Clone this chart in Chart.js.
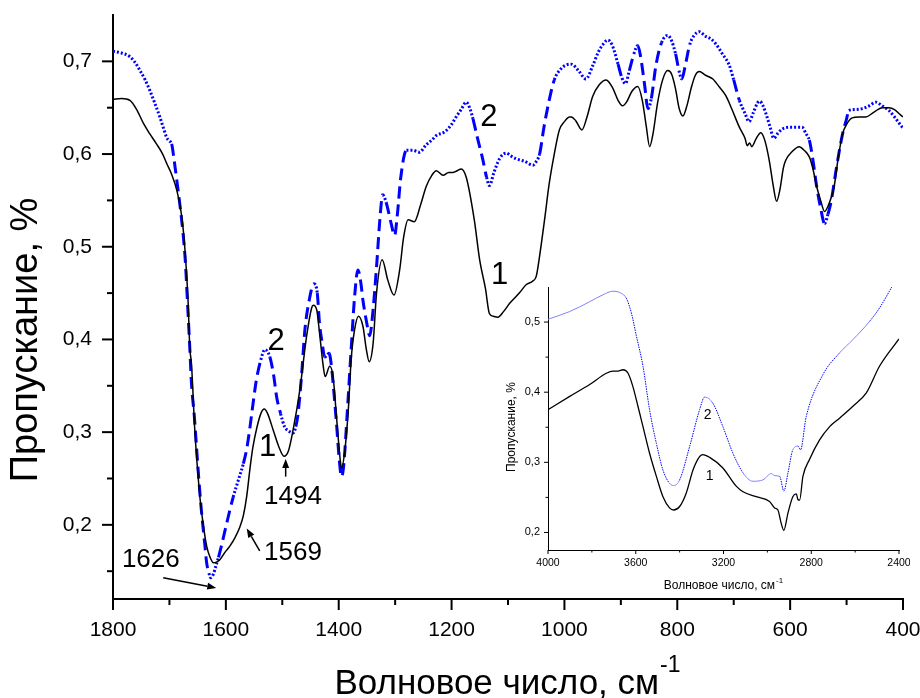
<!DOCTYPE html>
<html>
<head>
<meta charset="utf-8">
<script src="https://cdn.jsdelivr.net/npm/chart.js@4.4.1/dist/chart.umd.min.js"></script>
<style>
  html, body { margin: 0; padding: 0; background: #fff; }
  #wrap { position: relative; width: 920px; height: 698px; }
  #main { position: absolute; left: 0; top: 0; }
  #inset { position: absolute; left: 470px; top: 270px; }
</style>
</head>
<body>
<div id="wrap">
  <canvas id="main" width="920" height="698"></canvas>
  <canvas id="inset" width="440" height="330"></canvas>
</div>
<script>
// IR spectra, 1800-400 cm-1 (main) and 4000-2400 cm-1 (inset)
const FONT = "'Liberation Sans', Arial, Helvetica, sans-serif";

// curve 1, main range
const wave1 = [1800, 1785, 1770, 1758, 1746, 1735, 1723, 1712, 1705, 1696, 1687, 1678, 1672, 1667, 1664, 1661, 1655,
  1646, 1640, 1634, 1628, 1622, 1616, 1611, 1602, 1593, 1584, 1575, 1569, 1563, 1557, 1552, 1545, 1538, 1532, 1526,
  1516, 1506, 1497, 1489, 1481, 1469, 1457, 1448, 1445, 1439, 1434, 1428, 1424, 1416, 1410, 1404, 1398, 1395, 1389,
  1383, 1378, 1372, 1365, 1357, 1351, 1346, 1339, 1333, 1323, 1313, 1302, 1292, 1285, 1277, 1266, 1255, 1245, 1235,
  1227, 1215, 1205, 1198, 1190, 1183, 1174, 1160, 1150, 1140, 1133, 1126, 1118, 1108, 1097, 1080, 1068, 1056, 1050,
  1044, 1035, 1027, 1018, 1009, 1000, 991, 988, 980, 969, 960, 950, 938, 926, 915, 905, 897, 890, 880, 870, 862, 855,
  849, 843, 835, 826, 817, 810, 803, 797, 790, 783, 775, 768, 761, 750, 737, 725, 714, 703, 690, 680, 676, 672, 668,
  660, 652, 645, 637, 630, 624, 618, 612, 608, 596, 584, 575, 566, 560, 553, 546, 539, 532, 522, 515, 507, 500, 490,
  478, 466, 452, 437, 425, 415, 404, 400];
const trans1 = [0.659, 0.660, 0.658, 0.648, 0.633, 0.622, 0.611, 0.600, 0.590, 0.578, 0.561, 0.532, 0.493, 0.442, 0.392,
  0.374, 0.302, 0.230, 0.200, 0.177, 0.165, 0.159, 0.160, 0.162, 0.170, 0.177, 0.186, 0.198, 0.210, 0.231, 0.262,
  0.284, 0.305, 0.320, 0.325, 0.320, 0.302, 0.284, 0.274, 0.280, 0.302, 0.345, 0.403, 0.434, 0.437, 0.432, 0.407,
  0.374, 0.360, 0.371, 0.360, 0.317, 0.274, 0.261, 0.281, 0.324, 0.378, 0.410, 0.425, 0.414, 0.389, 0.376, 0.396,
  0.450, 0.486, 0.464, 0.448, 0.475, 0.510, 0.529, 0.527, 0.545, 0.565, 0.577, 0.582, 0.577, 0.580, 0.580, 0.582,
  0.584, 0.575, 0.530, 0.485, 0.455, 0.428, 0.425, 0.424, 0.430, 0.439, 0.450, 0.459, 0.463, 0.468, 0.490, 0.530,
  0.568, 0.600, 0.626, 0.635, 0.640, 0.640, 0.636, 0.626, 0.640, 0.662, 0.675, 0.680, 0.672, 0.658, 0.652, 0.656,
  0.668, 0.673, 0.658, 0.630, 0.608, 0.622, 0.655, 0.680, 0.690, 0.686, 0.670, 0.650, 0.641, 0.652, 0.672, 0.685,
  0.689, 0.685, 0.681, 0.672, 0.663, 0.648, 0.629, 0.617, 0.609, 0.612, 0.608, 0.617, 0.623, 0.615, 0.593, 0.566,
  0.549, 0.562, 0.585, 0.593, 0.603, 0.608, 0.604, 0.597, 0.585, 0.565, 0.550, 0.538, 0.545, 0.565, 0.595, 0.622,
  0.632, 0.639, 0.640, 0.640, 0.645, 0.650, 0.650, 0.648, 0.642, 0.640];

// curve 2, main range
const wave2 = [1800, 1785, 1770, 1760, 1752, 1743, 1735, 1726, 1717, 1710, 1705, 1700, 1696, 1692, 1687, 1681, 1676,
  1672, 1668, 1664, 1661, 1656, 1652, 1648, 1643, 1638, 1634, 1630, 1627, 1622, 1618, 1613, 1608, 1598, 1587, 1578,
  1569, 1563, 1558, 1552, 1546, 1538, 1531, 1522, 1515, 1510, 1503, 1496, 1488, 1481, 1476, 1472, 1466, 1460, 1453,
  1444, 1438, 1434, 1429, 1425, 1417, 1413, 1410, 1404, 1399, 1395, 1391, 1385, 1378, 1372, 1366, 1361, 1357, 1351,
  1345, 1341, 1333, 1327, 1322, 1316, 1307, 1301, 1296, 1290, 1280, 1268, 1257, 1245, 1235, 1227, 1212, 1200, 1192,
  1183, 1174, 1168, 1162, 1156, 1145, 1138, 1133, 1125, 1115, 1103, 1095, 1086, 1070, 1056, 1050, 1044, 1036, 1027,
  1018, 1006, 997, 988, 975, 962, 950, 940, 932, 923, 915, 905, 898, 892, 885, 877, 870, 865, 858, 852, 846, 838, 828,
  817, 810, 803, 797, 792, 786, 778, 770, 761, 750, 740, 732, 720, 708, 700, 690, 680, 673, 665, 658, 654, 648, 641,
  635, 629, 621, 614, 600, 590, 579, 572, 566, 560, 553, 546, 539, 533, 527, 518, 507, 500, 496, 485, 472, 460, 448,
  437, 425, 415, 404, 400];
const trans2 = [0.711, 0.709, 0.705, 0.698, 0.690, 0.680, 0.669, 0.655, 0.640, 0.627, 0.618, 0.614, 0.611, 0.595, 0.572,
  0.543, 0.515, 0.486, 0.440, 0.392, 0.353, 0.318, 0.284, 0.250, 0.213, 0.183, 0.159, 0.148, 0.143, 0.147, 0.155,
  0.165, 0.177, 0.203, 0.230, 0.248, 0.266, 0.282, 0.302, 0.330, 0.356, 0.378, 0.389, 0.381, 0.360, 0.338, 0.320,
  0.306, 0.301, 0.299, 0.306, 0.320, 0.360, 0.410, 0.440, 0.460, 0.450, 0.417, 0.395, 0.381, 0.385, 0.372, 0.353,
  0.310, 0.270, 0.252, 0.265, 0.320, 0.389, 0.445, 0.475, 0.462, 0.442, 0.420, 0.404, 0.420, 0.478, 0.530, 0.556,
  0.548, 0.525, 0.512, 0.535, 0.575, 0.604, 0.604, 0.602, 0.610, 0.615, 0.620, 0.624, 0.632, 0.640, 0.648, 0.656,
  0.650, 0.638, 0.622, 0.595, 0.575, 0.566, 0.580, 0.595, 0.601, 0.598, 0.595, 0.592, 0.588, 0.592, 0.600, 0.630,
  0.658, 0.680, 0.692, 0.696, 0.697, 0.690, 0.681, 0.695, 0.710, 0.718, 0.723, 0.717, 0.697, 0.682, 0.676, 0.690,
  0.708, 0.717, 0.705, 0.675, 0.649, 0.660, 0.695, 0.720, 0.728, 0.722, 0.708, 0.690, 0.681, 0.695, 0.718, 0.728,
  0.732, 0.727, 0.724, 0.719, 0.708, 0.696, 0.680, 0.658, 0.644, 0.635, 0.645, 0.655, 0.657, 0.652, 0.640, 0.628,
  0.617, 0.623, 0.627, 0.629, 0.629, 0.629, 0.622, 0.615, 0.595, 0.565, 0.542, 0.525, 0.535, 0.550, 0.585, 0.622,
  0.638, 0.647, 0.648, 0.649, 0.652, 0.656, 0.652, 0.647, 0.640, 0.631, 0.628];

// inset, 4000-2400 cm-1
const insetWave1 = [4000, 3901, 3810, 3734, 3704, 3681, 3658, 3635, 3613, 3590, 3567, 3537, 3506, 3476, 3446, 3427,
  3400, 3370, 3339, 3309, 3294, 3263, 3203, 3142, 3111, 3051, 2990, 2967, 2952, 2937, 2925, 2906, 2884, 2868, 2861,
  2853, 2838, 2808, 2762, 2716, 2671, 2610, 2549, 2489, 2400];
const insetTrans1 = [0.375, 0.394, 0.411, 0.427, 0.430, 0.430, 0.432, 0.427, 0.408, 0.380, 0.351, 0.313, 0.280, 0.251,
  0.235, 0.232, 0.237, 0.256, 0.289, 0.308, 0.311, 0.307, 0.292, 0.266, 0.258, 0.251, 0.244, 0.235, 0.232, 0.213,
  0.203, 0.228, 0.251, 0.255, 0.247, 0.246, 0.280, 0.304, 0.332, 0.351, 0.363, 0.380, 0.399, 0.437, 0.476];
const insetWave2 = [4000, 3901, 3810, 3749, 3704, 3666, 3643, 3620, 3597, 3567, 3537, 3506, 3476, 3446, 3427, 3400,
  3354, 3309, 3286, 3248, 3203, 3157, 3111, 3066, 3020, 2982, 2967, 2944, 2925, 2906, 2884, 2861, 2849, 2823, 2747,
  2671, 2610, 2534, 2489, 2431];
const insetTrans2 = [0.504, 0.515, 0.529, 0.539, 0.544, 0.541, 0.534, 0.513, 0.480, 0.437, 0.375, 0.327, 0.289, 0.270,
  0.267, 0.275, 0.323, 0.375, 0.393, 0.384, 0.351, 0.313, 0.285, 0.273, 0.275, 0.284, 0.281, 0.280, 0.259, 0.285,
  0.318, 0.323, 0.318, 0.365, 0.425, 0.456, 0.475, 0.501, 0.520, 0.551];

// ticks
const mainXMajor = [1800, 1600, 1400, 1200, 1000, 800, 600, 400];
const mainXMinor = [1700, 1500, 1300, 1100, 900, 700, 500];
const mainYMajor = [0.2, 0.3, 0.4, 0.5, 0.6, 0.7];
const mainYMinor = [0.15, 0.25, 0.35, 0.45, 0.55, 0.65];
const insetXMajor = [4000, 3600, 3200, 2800, 2400];
const insetXMinor = [3800, 3400, 3000, 2600];
const insetYMajor = [0.2, 0.3, 0.4, 0.5];
const insetYMinor = [0.25, 0.35, 0.45];

// peak labels: [text, wavenumber, transmission]
const mainLabels = [
  ['2', 1511, 0.398], ['1', 1526, 0.284], ['2', 1134, 0.639], ['1', 1115, 0.469],
  ['1494', 1481, 0.230], ['1626', 1733, 0.162], ['1569', 1481, 0.170]
];
// arrows: [fromWave, fromT, toWave, toT]
const mainArrows = [
  [1494, 0.252, 1494, 0.271],
  [1711, 0.143, 1617, 0.132],
  [1540, 0.172, 1563, 0.196]
];
const insetLabels = [['2', 3272, 0.368], ['1', 3263, 0.281]];

const toPoints = (xs, ys) => xs.map((x, i) => ({ x: x, y: ys[i] }));
const fmt = v => v.toFixed(1).replace('.', ',');
const steepness = c => Math.abs(c.p1.y - c.p0.y) / Math.max(Math.abs(c.p1.x - c.p0.x), 0.01);

const decor = {
  id: 'decor',
  afterDraw(chart, args, o) {
    const ctx = chart.ctx;
    const xs = chart.scales.x, ys = chart.scales.y;
    ctx.save();
    ctx.strokeStyle = '#000';
    ctx.fillStyle = '#000';
    ctx.lineWidth = o.tickWidth;
    const tick = (vals, len, horiz) => vals.forEach(v => {
      ctx.beginPath();
      if (horiz) {
        const p = xs.getPixelForValue(v);
        ctx.moveTo(p, ys.bottom); ctx.lineTo(p, ys.bottom + len);
      } else {
        const p = ys.getPixelForValue(v);
        ctx.moveTo(xs.left, p); ctx.lineTo(xs.left - len, p);
      }
      ctx.stroke();
    });
    tick(o.xMajor, o.major, true);
    tick(o.xMinor, o.minor, true);
    tick(o.yMajor, o.major, false);
    tick(o.yMinor, o.minor, false);

    // text labels on curves
    ctx.textAlign = 'center';
    ctx.textBaseline = 'middle';
    o.labels.forEach(([t, wx, wy]) => {
      ctx.font = (t.length > 1 ? o.numSize : o.digitSize) + 'px ' + FONT;
      ctx.fillText(t, xs.getPixelForValue(wx), ys.getPixelForValue(wy));
    });

    // arrows
    ctx.lineWidth = 1.5;
    o.arrows.forEach(([x0, y0, x1, y1]) => {
      const ax = xs.getPixelForValue(x0), ay = ys.getPixelForValue(y0);
      const bx = xs.getPixelForValue(x1), by = ys.getPixelForValue(y1);
      const ang = Math.atan2(by - ay, bx - ax);
      const hl = 9, hw = 3.5;
      ctx.beginPath();
      ctx.moveTo(ax, ay);
      ctx.lineTo(bx - hl * Math.cos(ang), by - hl * Math.sin(ang));
      ctx.stroke();
      ctx.beginPath();
      ctx.moveTo(bx, by);
      ctx.lineTo(bx - hl * Math.cos(ang) + hw * Math.sin(ang), by - hl * Math.sin(ang) - hw * Math.cos(ang));
      ctx.lineTo(bx - hl * Math.cos(ang) - hw * Math.sin(ang), by - hl * Math.sin(ang) + hw * Math.cos(ang));
      ctx.closePath();
      ctx.fill();
    });

    // axis titles (x title carries a superscript -1)
    const t = o.titles;
    ctx.textAlign = 'left';
    ctx.textBaseline = 'alphabetic';
    ctx.font = t.size + 'px ' + FONT;
    const xw = ctx.measureText(t.x).width;
    ctx.font = t.supSize + 'px ' + FONT;
    const sw = ctx.measureText('-1').width;
    const x0 = t.xCenter - (xw + sw) / 2;
    ctx.font = t.size + 'px ' + FONT;
    ctx.fillText(t.x, x0, t.xBase);
    ctx.font = t.supSize + 'px ' + FONT;
    ctx.fillText('-1', x0 + xw + 1, t.xBase - t.supRise);

    ctx.translate(t.yX, t.yY);
    ctx.rotate(-Math.PI / 2);
    ctx.textAlign = 'center';
    ctx.textBaseline = 'middle';
    ctx.font = t.ySize + 'px ' + FONT;
    ctx.fillText(t.y, 0, 0);
    ctx.restore();
  }
};

function axis(min, max, reverse, ticks, fitKey, fitVal, fontSize, pad, borderW, isY) {
  return {
    type: 'linear',
    min: min,
    max: max,
    reverse: reverse,
    afterBuildTicks: s => { s.ticks = ticks.map(v => ({ value: v })); },
    afterFit: s => {
      s[fitKey] = fitVal;
      s.paddingLeft = s.paddingRight = s.paddingTop = s.paddingBottom = 0;
    },
    grid: { display: false, drawTicks: false },
    border: { display: true, color: '#000', width: borderW },
    ticks: {
      autoSkip: false,
      maxRotation: 0,
      padding: pad,
      color: '#000',
      font: { family: FONT, size: fontSize },
      callback: v => isY ? fmt(v) : String(v)
    }
  };
}

new Chart(document.getElementById('main'), {
  type: 'line',
  data: {
    datasets: [
      {
        label: '1',
        data: toPoints(wave1, trans1),
        borderColor: '#000',
        borderWidth: 1.5,
        pointRadius: 0,
        cubicInterpolationMode: 'monotone'
      },
      {
        label: '2',
        data: toPoints(wave2, trans2),
        borderColor: '#0000ff',
        borderWidth: 3,
        pointRadius: 0,
        cubicInterpolationMode: 'monotone',
        segment: { borderDash: c => steepness(c) > 3.5 ? [12, 6] : [2, 2] }
      }
    ]
  },
  options: {
    responsive: false,
    animation: false,
    events: [],
    layout: { padding: { top: 15, right: 17, left: 0, bottom: 0 } },
    scales: {
      x: axis(400, 1800, true, mainXMajor, 'height', 99, 21, 19, 2, false),
      y: axis(0.12, 0.75, false, mainYMajor, 'width', 113, 21, 21, 2, true)
    },
    plugins: {
      legend: { display: false },
      tooltip: { enabled: false },
      decor: {
        tickWidth: 2, major: 11, minor: 6,
        xMajor: mainXMajor, xMinor: mainXMinor, yMajor: mainYMajor, yMinor: mainYMinor,
        labels: mainLabels, arrows: mainArrows, digitSize: 31, numSize: 26,
        titles: {
          x: 'Волновое число, см', y: 'Пропускание, %', size: 35, ySize: 38, supSize: 23, supRise: 22,
          xCenter: 507, xBase: 694, yX: 27, yY: 340
        }
      }
    }
  },
  plugins: [decor]
});

new Chart(document.getElementById('inset'), {
  type: 'line',
  data: {
    datasets: [
      {
        label: '1',
        data: toPoints(insetWave1, insetTrans1),
        borderColor: '#000',
        borderWidth: 1.3,
        pointRadius: 0,
        cubicInterpolationMode: 'monotone'
      },
      {
        label: '2',
        data: toPoints(insetWave2, insetTrans2),
        borderColor: '#8080ff',
        borderWidth: 1,
        pointRadius: 0,
        cubicInterpolationMode: 'monotone',
        segment: {
          borderDash: c => steepness(c) > 1.2 ? [1.5, 1] : [],
          borderColor: c => steepness(c) > 1.2 ? '#0000ff' : '#8080ff'
        }
      }
    ]
  },
  options: {
    responsive: false,
    animation: false,
    events: [],
    layout: { padding: { top: 17, right: 11, left: 0, bottom: 0 } },
    scales: {
      x: axis(2400, 4000, true, insetXMajor, 'height', 50, 10.5, 7, 1, false),
      y: axis(0.175, 0.55, false, insetYMajor, 'width', 78, 11, 8, 1, true)
    },
    plugins: {
      legend: { display: false },
      tooltip: { enabled: false },
      decor: {
        tickWidth: 1, major: 4, minor: 2.5,
        xMajor: insetXMajor, xMinor: insetXMinor, yMajor: insetYMajor, yMinor: insetYMinor,
        labels: insetLabels, arrows: [], digitSize: 14, numSize: 14,
        titles: {
          x: 'Волновое число, см', y: 'Пропускание, %', size: 12, ySize: 12, supSize: 8, supRise: 6,
          xCenter: 253, xBase: 319, yX: 42, yY: 157
        }
      }
    }
  },
  plugins: [decor]
});
</script>
</body>
</html>
